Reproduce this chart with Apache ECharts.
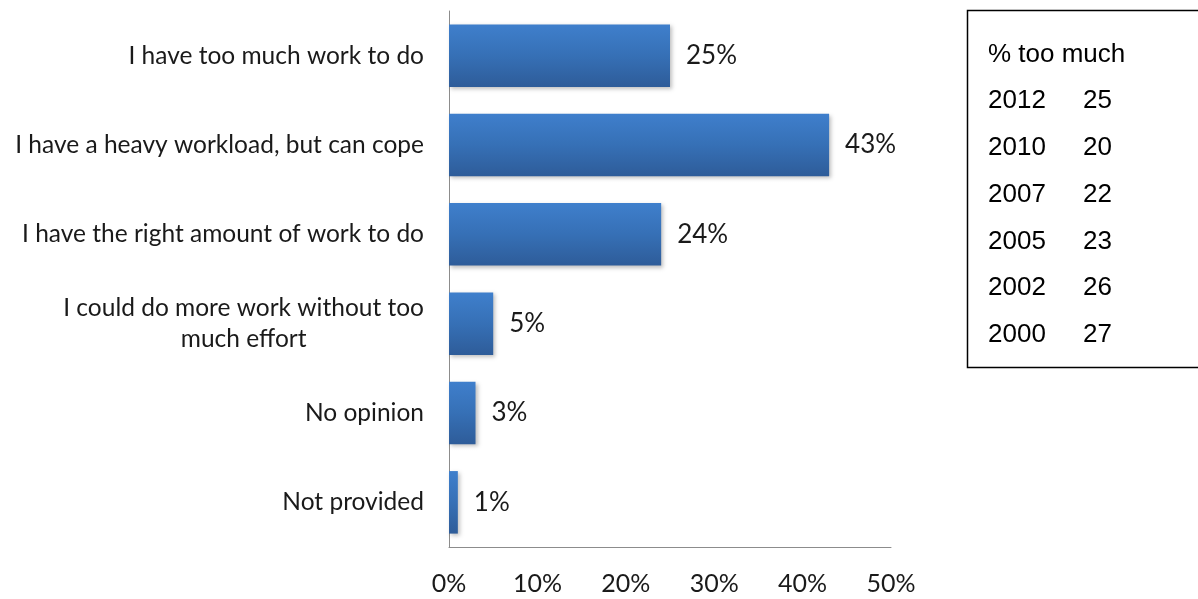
<!DOCTYPE html>
<html>
<head>
<meta charset="utf-8">
<script src="https://cdn.jsdelivr.net/npm/echarts@6/dist/echarts.min.js"></script>
<style>
  html, body { margin: 0; padding: 0; background: #ffffff; }
  #chart { width: 1198px; height: 599px; }
</style>
</head>
<body>
<div id="chart"></div>
<script>
// Workload survey responses (top to bottom)
const categories = [
  'I have too much work to do',
  'I have a heavy workload, but can cope',
  'I have the right amount of work to do',
  'I could do more work without too much effort',
  'No opinion',
  'Not provided'
];
const shares = [25, 43, 24, 5, 3, 1];

// Side table: share answering "too much" by survey year
const tableTitle = '% too much';
const tableYears = ['2012', '2010', '2007', '2005', '2002', '2000'];
const tableValues = ['25', '20', '22', '23', '26', '27'];

const axisTicks = [0, 10, 20, 30, 40, 50];

const FONT = 'Lato, "Open Sans", sans-serif';
const TEXT = '#1a1a1a';
const TABLE_FONT = '26px "Liberation Sans", Arial, sans-serif';

const chart = echarts.init(document.getElementById('chart'), null, { renderer: 'canvas' });

// Side table drawn as graphic elements
const tableGraphics = [
  {
    type: 'rect',
    shape: { x: 967.5, y: 10.5, width: 240, height: 357 },
    style: { fill: '#ffffff', stroke: '#000000', lineWidth: 1.5 },
    z: 10
  },
  {
    type: 'text',
    x: 988, y: 55,
    style: { text: tableTitle, font: TABLE_FONT, fill: '#000', textVerticalAlign: 'middle' },
    z: 11
  }
];
tableYears.forEach((yr, i) => {
  const y = 101 + i * 46.8;
  tableGraphics.push({
    type: 'text', x: 988, y: y,
    style: { text: yr, font: TABLE_FONT, fill: '#000', textVerticalAlign: 'middle' },
    z: 11
  });
  tableGraphics.push({
    type: 'text', x: 1083, y: y,
    style: { text: tableValues[i], font: TABLE_FONT, fill: '#000', textVerticalAlign: 'middle' },
    z: 11
  });
});

chart.setOption({
  animation: false,
  backgroundColor: '#ffffff',
  grid: { left: 449, right: 307, top: 11, bottom: 52, containLabel: false },
  xAxis: {
    type: 'value',
    min: axisTicks[0],
    max: axisTicks[axisTicks.length - 1],
    interval: 10,
    splitLine: { show: false },
    axisLine: { show: true, lineStyle: { color: '#8c8c8c', width: 1 } },
    axisTick: { show: false },
    axisLabel: {
      formatter: v => v + '%',
      color: TEXT,
      fontFamily: FONT,
      fontSize: 25,
      margin: 24
    }
  },
  yAxis: {
    type: 'category',
    inverse: true,
    data: categories,
    axisLine: { show: true, lineStyle: { color: '#8c8c8c', width: 1 } },
    axisTick: { show: false },
    axisLabel: {
      color: TEXT,
      fontFamily: FONT,
      fontSize: 24.5,
      margin: 25,
      lineHeight: 31,
      formatter: function (v) {
        if (v === 'I could do more work without too much effort') {
          return '{c|I could do more work without too}\n{c|much effort}';
        }
        return v;
      },
      rich: {
        c: { align: 'center', fontFamily: FONT, fontSize: 24.5, color: TEXT, lineHeight: 31 }
      }
    }
  },
  series: [{
    type: 'bar',
    data: shares,
    barWidth: '70%',
    itemStyle: {
      color: new echarts.graphic.LinearGradient(0, 0, 0, 1, [
        { offset: 0, color: '#3f7fcc' },
        { offset: 0.5, color: '#3670b6' },
        { offset: 1, color: '#2e5c99' }
      ]),
      shadowColor: 'rgba(0,0,0,0.25)',
      shadowBlur: 4,
      shadowOffsetX: 2,
      shadowOffsetY: 2
    },
    label: {
      show: true,
      position: 'right',
      distance: 16,
      formatter: p => p.value + '%',
      color: TEXT,
      fontFamily: FONT,
      fontSize: 26
    }
  }],
  graphic: tableGraphics
});
</script>
</body>
</html>
